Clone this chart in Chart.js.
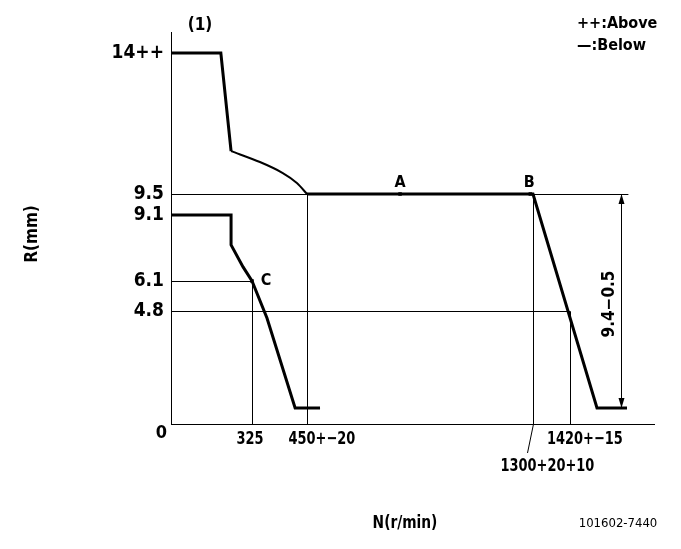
<!DOCTYPE html>
<html>
<head>
<meta charset="utf-8">
<script src="https://cdn.jsdelivr.net/npm/chart.js@4.4.1/dist/chart.umd.min.js"></script>
<style>
  html, body { margin: 0; padding: 0; background: #fff; }
  #wrap { width: 681px; height: 549px; }
</style>
</head>
<body>
<div id="wrap"><canvas id="chart" width="681" height="549"></canvas></div>
<script>
// tick values and labels
const yTickValues = [14, 9.5, 9.1, 6.1, 4.8];
const yTickLabels = ["14++", "9.5", "9.1", "6.1", "4.8"];
const xTickValues = [325, 450, 1420];
const xTickLabels = ["325", "450+−20", "1420+−15"];
const xLowTickValue = 1300;
const xLowTickLabel = "1300+20+10";

// curves (N r/min, R mm)
const upperStop = [[0, 14], [200, 14], [241, 10.87]];
const upperCurve = [[241, 10.87], [343, 10.52], [395, 10.17], [427, 9.85], [450, 9.5]];
const upperDroop = [[450, 9.5], [1300, 9.5], [1510, 0.68], [1610, 0.68]];
const lowerLine = [[0, 9.1], [241, 9.1], [241, 7.74], [289, 6.74], [325, 6.1], [359, 4.5], [423, 0.68], [499, 0.68]];

const markNames = ["A", "B", "C"];
const markPoints = [[800, 9.5], [1290, 9.5], [325, 6.1]];

const guideLines = [
  [[0, 9.5], [1613, 9.5]],
  [[0, 6.1], [325, 6.1]],
  [[0, 4.8], [1420, 4.8]],
  [[325, 0], [325, 6.1]],
  [[450, 0], [450, 9.5]],
  [[1300, 0], [1300, 9.5]],
  [[1420, 0], [1420, 4.8]]
];
const dimX = 1590, dimFrom = 9.5, dimTo = 0.68, dimLabel = "9.4−0.5";

// the drawing is not to scale: break points (value, share of axis length)
const xBreaks = [[0, 0], [325, 81 / 483], [450, 136 / 483], [1300, 362 / 483], [1420, 399 / 483], [1700, 1]];
const yBreaks = [[0, 0], [4.8, 113 / 392], [6.1, 143 / 392], [9.1, 209 / 392], [9.5, 230 / 392], [14, 371 / 392], [14.67, 1]];

const FONT = "'Liberation Sans Narrow', 'DejaVu Sans Condensed', sans-serif";

class BreakScale extends Chart.LinearScale {
  static id = "breaks";
  static defaults = Chart.LinearScale.defaults;
  breaks() { return this.axis === "x" ? xBreaks : yBreaks; }
  getPixelForValue(v) {
    const b = this.breaks();
    let d = b[b.length - 1][1];
    if (v <= b[0][0]) d = b[0][1];
    else {
      for (let i = 1; i < b.length; i++) {
        if (v <= b[i][0]) {
          d = b[i - 1][1] + (v - b[i - 1][0]) / (b[i][0] - b[i - 1][0]) * (b[i][1] - b[i - 1][1]);
          break;
        }
      }
    }
    return this.getPixelForDecimal(d);
  }
  getValueForPixel(p) {
    const b = this.breaks();
    const d = this.getDecimalForPixel(p);
    for (let i = 1; i < b.length; i++) {
      if (d <= b[i][1]) {
        return b[i - 1][0] + (d - b[i - 1][1]) / (b[i][1] - b[i - 1][1]) * (b[i][0] - b[i - 1][0]);
      }
    }
    return b[b.length - 1][0];
  }
}
Chart.register(BreakScale);

const toXY = arr => arr.map(p => ({ x: p[0], y: p[1] }));

function lineSet(arr, width, tension) {
  return {
    data: toXY(arr), borderColor: "#000", borderWidth: width,
    pointRadius: 0, tension: tension || 0, fill: false
  };
}

const datasets = [
  lineSet(upperStop, 3),
  lineSet(upperCurve, 2, 0.3),
  lineSet(upperDroop, 3),
  lineSet(lowerLine, 3)
];
guideLines.forEach(g => {
  const ds = lineSet(g, 1);
  ds.thin = true;
  datasets.push(ds);
});
datasets.push({
  data: toXY(markPoints), showLine: false, pointRadius: 2.5, pointStyle: "rect",
  pointBackgroundColor: "#000", pointBorderWidth: 0
});

// keep 1px guide lines sharp
const crispPlugin = {
  id: "crisp",
  beforeDatasetDraw(chart, args) {
    if (args.meta._dataset.thin) { chart.ctx.save(); chart.ctx.translate(0.5, 0.5); }
  },
  afterDatasetDraw(chart, args) {
    if (args.meta._dataset.thin) chart.ctx.restore();
  }
};

function squeezed(ctx, text, x, y, align, k) {
  ctx.save();
  ctx.translate(x, y);
  ctx.scale(k, 1);
  ctx.textAlign = align;
  ctx.fillText(text, 0, 0);
  ctx.restore();
}

const textPlugin = {
  id: "texts",
  afterDraw(chart) {
    const ctx = chart.ctx;
    const xs = chart.scales.x, ys = chart.scales.y;
    const k = 0.8;
    ctx.save();
    ctx.fillStyle = "#000";
    ctx.strokeStyle = "#000";
    ctx.textBaseline = "middle";

    // x tick labels: number part centred on its line
    ctx.font = "bold 18px " + FONT;
    xTickValues.forEach((v, i) => {
      const lab = xTickLabels[i];
      const main = lab.split("+")[0];
      const px = xs.getPixelForValue(v);
      const left = px - k * ctx.measureText(main).width / 2 - (main === lab ? 2 : 5);
      squeezed(ctx, lab, left, 439, "left", k);
    });
    const lowPx = xs.getPixelForValue(xLowTickValue) + 0.5;
    ctx.lineWidth = 1;
    ctx.beginPath();
    ctx.moveTo(lowPx, xs.top);
    ctx.lineTo(lowPx - 6, xs.top + 29);
    ctx.stroke();
    squeezed(ctx, xLowTickLabel, lowPx - 33, 466, "left", k);
    ctx.textAlign = "right";
    ctx.fillText("0", 167, 433);

    // point names
    ctx.font = "bold 16px " + FONT;
    ctx.textAlign = "center";
    ctx.fillText(markNames[0], xs.getPixelForValue(markPoints[0][0]), 183);
    ctx.fillText(markNames[1], xs.getPixelForValue(markPoints[1][0]) - 1, 183);
    ctx.fillText(markNames[2], xs.getPixelForValue(markPoints[2][0]) + 14, ys.getPixelForValue(markPoints[2][1]));

    // dimension arrow
    const dx = Math.round(xs.getPixelForValue(dimX)) + 0.5;
    const y1 = ys.getPixelForValue(dimFrom), y2 = ys.getPixelForValue(dimTo);
    ctx.beginPath();
    ctx.moveTo(dx, y1);
    ctx.lineTo(dx, y2);
    ctx.stroke();
    ctx.beginPath();
    ctx.moveTo(dx, y1); ctx.lineTo(dx - 3, y1 + 10); ctx.lineTo(dx + 3, y1 + 10); ctx.closePath();
    ctx.moveTo(dx, y2); ctx.lineTo(dx - 3, y2 - 10); ctx.lineTo(dx + 3, y2 - 10); ctx.closePath();
    ctx.fill();
    ctx.save();
    ctx.translate(dx - 12, (y1 + y2) / 2 + 3);
    ctx.rotate(-Math.PI / 2);
    ctx.font = "bold 17px " + FONT;
    ctx.textAlign = "center";
    ctx.fillText(dimLabel, 0, 0);
    ctx.restore();

    // titles and notes
    ctx.font = "bold 17px " + FONT;
    ctx.textAlign = "center";
    ctx.fillText("(1)", 200, 26);
    squeezed(ctx, "N(r/min)", 405, 524, "center", 0.9);
    ctx.save();
    ctx.translate(33, 234);
    ctx.rotate(-Math.PI / 2);
    ctx.fillText("R(mm)", 0, 0);
    ctx.restore();
    ctx.font = "bold 16px " + FONT;
    ctx.textAlign = "left";
    ctx.fillText("++:Above", 577, 24);
    ctx.fillText("—:Below", 577, 46);
    ctx.font = "13px " + FONT;
    ctx.textAlign = "center";
    ctx.fillText("101602-7440", 618, 524);
    ctx.restore();
  }
};

new Chart(document.getElementById("chart"), {
  type: "line",
  data: { datasets: datasets },
  plugins: [crispPlugin, textPlugin],
  options: {
    responsive: false,
    animation: false,
    devicePixelRatio: 1,
    layout: { padding: { top: 32, right: 27, left: 0, bottom: 0 } },
    plugins: { legend: { display: false }, tooltip: { enabled: false } },
    scales: {
      x: {
        type: "breaks", min: 0, max: 1700,
        grid: { display: false, drawTicks: false },
        border: { display: true, color: "#000", width: 1 },
        ticks: { display: false },
        afterFit: s => { s.height = 125; }
      },
      y: {
        type: "breaks", min: 0, max: 14.67,
        grid: { display: false, drawTicks: false },
        border: { display: true, color: "#000", width: 1 },
        afterBuildTicks: s => { s.ticks = yTickValues.map(v => ({ value: v })); },
        ticks: {
          color: "#000", padding: 7,
          font: { family: FONT, size: 19, weight: "bold" },
          callback: (v, i) => yTickLabels[i]
        },
        afterFit: s => { s.width = 171; }
      }
    }
  }
});
</script>
</body>
</html>
